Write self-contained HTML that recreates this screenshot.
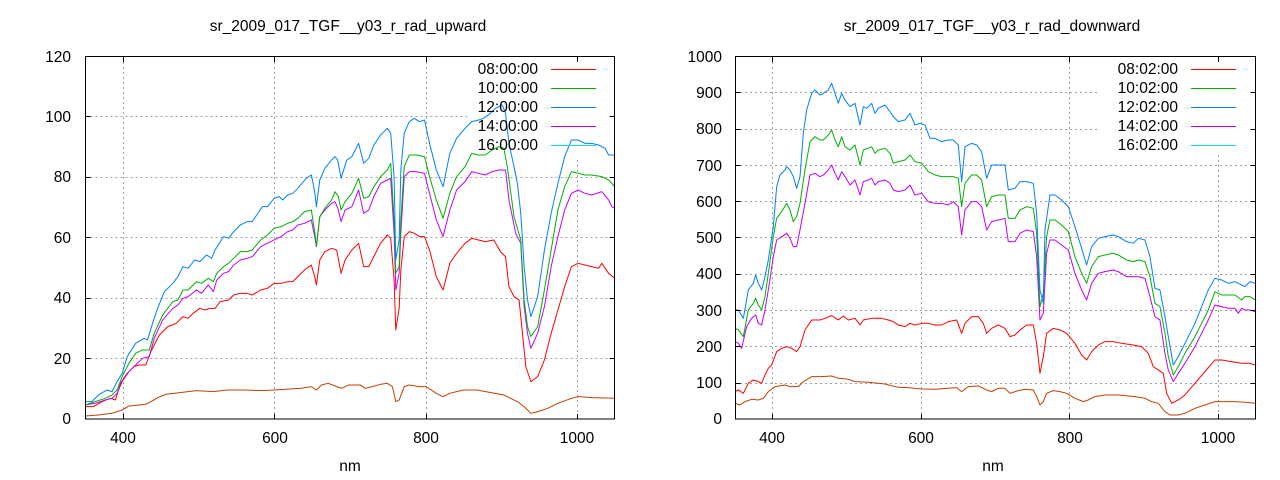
<!DOCTYPE html>
<html><head><meta charset="utf-8"><style>
html,body{margin:0;padding:0;background:#fff;}
svg{display:block;font-family:"Liberation Sans",sans-serif;font-size:15.5px;fill:#000;}
.g{stroke:#a0a0a0;stroke-width:1;stroke-dasharray:2,3;fill:none;}
.c{fill:none;stroke-width:1;vector-effect:non-scaling-stroke;stroke-linejoin:round;}
.ax{fill:none;stroke:#000;stroke-width:1;}
</style></head><body>
<svg width="1280" height="480" viewBox="0 0 1280 480" xmlns="http://www.w3.org/2000/svg">
<rect width="1280" height="480" fill="#fff"/>
<!-- LEFT PLOT -->
<text x="348" y="31" text-anchor="middle">sr_2009_017_TGF__y03_r_rad_upward</text>
<g class="g">
<path d="M85.5,358.5H615M85.5,298.5H615M85.5,237.5H615M85.5,177.5H615M85.5,116.5H470M85.5,56.5H615"/>
<path d="M123.5,57V419M274.5,57V419M426.5,57V419M577.5,160V419"/>
</g>
<g text-anchor="end">
<text x="71" y="424">0</text><text x="71" y="364">20</text><text x="71" y="303">40</text><text x="71" y="243">60</text><text x="71" y="182">80</text><text x="71" y="122">100</text><text x="71" y="62">120</text>
</g>
<g text-anchor="middle">
<text x="123" y="443">400</text><text x="275" y="443">600</text><text x="426" y="443">800</text><text x="577" y="443">1000</text>
<text x="350" y="471">nm</text>
</g>
<g transform="translate(85,100) scale(0.3378,0.3333)">
<polyline class="c" stroke="#c04000" points="0,948 40,945 80,940 110,930 130,918 160,915 180,913 195,905 215,893 240,883 290,877 330,872 380,875 420,870 470,870 520,872 560,870 640,865 670,860 685,870 700,855 720,850 745,860 760,865 780,855 815,855 830,865 850,860 875,853 895,850 910,860 920,905 930,900 945,860 960,855 990,860 1010,860 1040,880 1060,890 1080,880 1120,870 1160,870 1240,885 1280,905 1300,920 1320,940 1340,935 1370,925 1400,910 1440,895 1460,890 1500,893 1568,895"/>
<polyline class="c" stroke="#ff0000" points="0,920 25,920 50,905 75,895 90,900 105,850 125,820 145,800 160,795 180,795 195,755 220,705 245,680 270,670 290,650 305,655 320,640 340,625 355,630 370,625 385,625 400,605 425,600 440,585 460,580 480,580 495,585 520,570 540,565 560,550 580,550 600,545 615,545 630,530 650,510 670,495 680,530 685,555 695,480 710,455 730,445 745,450 758,520 770,480 790,450 810,430 825,500 840,500 855,470 875,430 895,405 905,415 915,540 920,690 930,625 935,510 945,410 960,395 975,400 990,410 1005,410 1020,450 1040,530 1060,570 1080,490 1100,460 1125,430 1145,415 1165,420 1185,425 1210,420 1230,455 1245,470 1255,560 1270,590 1285,600 1295,700 1305,800 1320,845 1340,830 1360,780 1380,700 1400,630 1420,560 1440,500 1460,490 1480,495 1500,500 1520,505 1530,490 1550,520 1568,535"/>
<polyline class="c" stroke="#c000ff" points="0,915 30,910 60,900 80,895 95,880 110,845 130,815 150,795 170,775 190,770 205,715 230,660 260,625 275,615 290,595 305,590 330,570 345,580 365,555 380,575 390,540 410,520 425,515 440,495 460,480 480,475 495,470 520,440 540,430 560,420 580,410 600,395 615,390 630,375 650,370 670,360 680,410 685,440 695,350 710,330 730,310 740,305 750,330 758,365 770,330 790,320 810,270 825,340 840,330 855,290 875,250 895,240 905,235 915,400 920,570 930,520 935,400 945,230 960,215 980,215 1005,220 1020,280 1040,360 1060,410 1080,330 1100,270 1125,245 1145,215 1165,220 1185,225 1205,215 1225,210 1245,210 1255,300 1275,400 1290,430 1300,620 1310,700 1320,745 1340,700 1360,620 1380,500 1400,410 1420,330 1440,280 1460,270 1480,280 1500,285 1530,275 1550,300 1560,320 1568,325"/>
<polyline class="c" stroke="#00b000" points="0,915 30,905 60,895 80,885 95,870 110,830 130,790 150,760 170,750 190,750 205,700 230,645 260,605 275,600 290,570 305,570 330,545 345,550 365,535 380,545 390,520 410,500 425,490 440,475 460,455 480,455 495,450 520,420 540,405 560,385 580,380 600,370 615,365 630,355 650,335 670,330 680,395 685,440 695,350 710,325 730,300 740,275 750,290 758,330 770,305 790,280 810,235 825,295 840,290 855,260 875,230 895,210 905,190 915,360 920,520 930,500 935,360 945,200 960,165 980,165 1005,170 1020,230 1040,300 1060,355 1080,280 1100,230 1125,200 1145,160 1165,165 1185,165 1205,150 1225,140 1240,145 1250,200 1270,350 1290,420 1300,600 1310,680 1320,710 1340,680 1360,570 1380,450 1400,330 1420,260 1440,215 1460,220 1480,225 1500,225 1530,230 1550,240 1568,260"/>
<polyline class="c" stroke="#0080ff" points="0,905 20,905 40,885 65,870 80,875 95,845 110,820 125,770 150,730 175,715 185,720 200,670 215,625 235,575 260,550 275,530 290,500 305,505 325,480 340,485 360,465 375,475 385,450 410,410 425,415 440,395 460,375 480,365 495,365 525,320 540,320 560,295 575,290 585,300 600,285 615,280 630,265 655,235 670,225 680,275 685,320 695,240 710,205 730,180 740,170 748,180 758,235 775,180 790,170 810,130 825,190 840,175 855,135 875,105 895,85 905,100 915,230 920,480 930,420 935,210 945,100 960,65 975,55 990,65 1005,60 1020,130 1040,210 1060,260 1080,160 1100,115 1125,85 1145,65 1165,60 1180,55 1200,40 1215,25 1235,15 1245,40 1255,130 1270,200 1280,250 1290,340 1300,500 1310,600 1320,650 1340,590 1360,450 1380,340 1400,250 1420,170 1440,120 1460,120 1480,130 1500,130 1520,135 1540,145 1550,165 1568,165"/>
</g>
<g text-anchor="end">
<text x="538" y="74">08:00:00</text><text x="538" y="93">10:00:00</text><text x="538" y="112">12:00:00</text><text x="538" y="131">14:00:00</text><text x="538" y="150">16:00:00</text>
</g>
<path d="M551,69.5H596" stroke="#ff0000"/><path d="M551,88.5H596" stroke="#00b000"/><path d="M551,107.5H596" stroke="#0080ff"/><path d="M551,126.5H596" stroke="#c000ff"/><path d="M551,145.5H596" stroke="#00e0e0"/>
<rect class="ax" x="85.5" y="56.5" width="529" height="362.5"/>
<g stroke="#000">
<path d="M85.5,358.5h5M85.5,298.5h5M85.5,237.5h5M85.5,177.5h5M85.5,116.5h5M614.5,358.5h-5M614.5,298.5h-5M614.5,237.5h-5M614.5,177.5h-5M614.5,116.5h-5"/>
<path d="M123.5,419v-5M274.5,419v-5M426.5,419v-5M577.5,419v-5M123.5,57v5M274.5,57v5M426.5,57v5M577.5,57v5"/>
</g>

<!-- RIGHT PLOT -->
<text x="992" y="31" text-anchor="middle">sr_2009_017_TGF__y03_r_rad_downward</text>
<g class="g">
<path d="M735,383.5H1255M735,346.5H1255M735,310.5H1255M735,274.5H1255M735,237.5H1255M735,201.5H1255M735,165.5H1255M735,129.5H1100M735,92.5H1100"/>
<path d="M772.5,57V419M921.5,57V419M1069.5,57V419M1218.5,155V419"/>
</g>
<g text-anchor="end">
<text x="722" y="424">0</text><text x="722" y="388">100</text><text x="722" y="352">200</text><text x="722" y="316">300</text><text x="722" y="279">400</text><text x="722" y="243">500</text><text x="722" y="207">600</text><text x="722" y="171">700</text><text x="722" y="134">800</text><text x="722" y="98">900</text><text x="722" y="62">1000</text>
</g>
<g text-anchor="middle">
<text x="772" y="443">400</text><text x="921" y="443">600</text><text x="1070" y="443">800</text><text x="1218" y="443">1000</text>
<text x="993" y="471">nm</text>
</g>
<g transform="translate(735,70) scale(0.3333,0.3333)">
<polyline class="c" stroke="#c04000" points="0,1000 15,1005 30,995 50,988 70,990 85,985 100,965 120,950 150,945 165,950 190,950 205,935 230,920 260,920 290,918 310,925 340,928 360,935 400,937 450,942 490,952 520,953 560,957 600,958 640,955 665,953 680,965 700,950 730,948 755,960 770,965 790,955 810,955 825,970 850,962 870,958 895,960 905,980 915,1005 925,995 935,970 955,962 975,965 995,970 1020,985 1045,995 1060,990 1080,980 1110,975 1150,975 1200,980 1230,985 1250,995 1270,1000 1290,1025 1305,1035 1330,1035 1350,1030 1380,1015 1410,1005 1440,995 1470,995 1500,995 1530,997 1560,1000"/>
<polyline class="c" stroke="#ff0000" points="0,965 10,960 25,970 40,940 55,930 70,935 80,940 90,915 100,895 110,885 125,845 140,835 155,830 170,835 185,845 195,830 210,780 230,750 255,750 270,745 290,737 310,750 325,738 340,750 360,745 375,765 385,750 410,745 440,745 460,750 475,755 490,765 510,770 525,760 540,765 560,760 580,760 600,765 620,765 640,755 665,750 680,790 690,760 710,740 730,740 745,760 755,790 770,775 790,765 810,775 825,800 840,795 855,780 875,765 895,765 905,820 915,910 925,860 935,790 955,775 975,780 995,790 1020,820 1040,855 1055,870 1070,845 1090,825 1110,815 1135,815 1160,820 1195,825 1220,830 1240,850 1255,890 1270,900 1285,910 1295,970 1310,1000 1330,990 1350,975 1380,940 1410,905 1440,870 1460,870 1490,875 1520,880 1545,880 1560,885"/>
<polyline class="c" stroke="#c000ff" points="0,815 10,820 20,835 35,770 50,745 62,735 70,760 80,765 90,720 100,660 115,560 125,510 140,500 155,490 165,505 175,530 185,530 195,480 210,400 225,315 240,310 255,320 265,315 280,300 290,285 300,310 310,330 320,305 330,320 345,345 360,330 375,375 385,335 400,330 410,325 420,345 430,335 450,330 465,340 475,360 490,365 510,360 525,345 540,375 560,370 580,395 600,400 620,400 640,405 655,395 670,410 680,495 690,420 710,395 725,395 740,410 755,480 770,455 790,450 810,445 820,515 840,515 855,490 875,480 895,485 905,560 915,750 925,730 935,550 945,510 960,510 980,525 1000,540 1020,610 1040,660 1055,690 1070,640 1090,610 1110,605 1135,600 1150,605 1175,620 1195,620 1210,620 1230,625 1245,680 1260,740 1275,750 1290,850 1300,900 1315,935 1330,910 1350,880 1380,830 1400,790 1420,750 1440,705 1460,710 1480,715 1500,715 1510,730 1520,715 1530,720 1545,720 1560,725"/>
<polyline class="c" stroke="#00b000" points="0,775 10,780 25,800 40,720 55,700 62,685 70,705 80,720 90,680 100,610 115,500 125,445 140,425 155,400 165,420 175,455 185,440 195,400 210,300 225,215 240,200 255,210 265,210 280,195 290,180 300,210 310,230 320,200 330,230 345,240 360,225 375,285 385,240 400,235 410,230 420,250 430,240 450,235 465,250 475,280 490,275 510,270 525,255 540,275 560,280 580,305 600,315 620,320 640,320 655,320 670,325 680,410 690,340 710,315 725,315 740,330 755,410 770,380 790,375 810,375 820,445 840,445 855,420 875,410 895,415 905,490 915,710 925,670 935,500 945,450 960,450 980,465 1000,485 1020,560 1040,610 1055,640 1070,590 1090,560 1110,555 1135,550 1150,555 1175,570 1195,575 1210,570 1230,575 1245,620 1260,700 1275,710 1290,790 1300,860 1315,915 1330,890 1350,850 1380,800 1400,760 1420,720 1440,665 1460,675 1480,675 1500,675 1520,690 1530,680 1545,680 1560,690"/>
<polyline class="c" stroke="#0080ff" points="0,720 10,720 25,745 40,660 55,640 62,615 70,640 80,660 90,620 100,570 115,470 125,350 135,315 150,300 155,290 165,300 175,320 185,355 195,320 205,190 215,120 230,70 240,60 255,75 265,70 280,60 290,40 300,70 310,100 320,70 330,90 345,110 360,100 375,165 385,110 395,115 410,100 420,130 430,115 450,105 465,125 475,140 490,155 510,150 525,130 540,165 555,160 570,165 585,205 600,205 620,215 640,210 655,210 670,225 680,335 690,230 710,220 725,225 740,245 755,325 770,285 790,285 810,285 820,360 840,355 855,335 875,335 895,340 905,430 915,660 925,700 930,480 945,375 960,375 980,390 1000,410 1020,470 1040,535 1055,585 1070,530 1090,505 1110,500 1135,495 1150,500 1175,515 1195,520 1210,505 1230,510 1245,560 1260,655 1275,660 1290,740 1300,800 1315,885 1330,860 1350,820 1380,760 1400,710 1420,660 1440,625 1460,630 1480,640 1500,635 1520,645 1530,650 1545,635 1560,640"/>
</g>
<g text-anchor="end">
<text x="1178" y="74">08:02:00</text><text x="1178" y="93">10:02:00</text><text x="1178" y="112">12:02:00</text><text x="1178" y="131">14:02:00</text><text x="1178" y="150">16:02:00</text>
</g>
<path d="M1191,69.5H1236" stroke="#ff0000"/><path d="M1191,88.5H1236" stroke="#00b000"/><path d="M1191,107.5H1236" stroke="#0080ff"/><path d="M1191,126.5H1236" stroke="#c000ff"/><path d="M1191,145.5H1236" stroke="#00e0e0"/>
<rect class="ax" x="735.5" y="56.5" width="520" height="362.5"/>
<g stroke="#000">
<path d="M735.5,383.5h5M735.5,346.5h5M735.5,310.5h5M735.5,274.5h5M735.5,237.5h5M735.5,201.5h5M735.5,165.5h5M735.5,129.5h5M735.5,92.5h5M1255.5,383.5h-5M1255.5,346.5h-5M1255.5,310.5h-5M1255.5,274.5h-5M1255.5,237.5h-5M1255.5,201.5h-5M1255.5,165.5h-5M1255.5,129.5h-5M1255.5,92.5h-5"/>
<path d="M772.5,419v-5M921.5,419v-5M1069.5,419v-5M1218.5,419v-5M772.5,57v5M921.5,57v5M1069.5,57v5M1218.5,57v5"/>
</g>
</svg>
</body></html>
